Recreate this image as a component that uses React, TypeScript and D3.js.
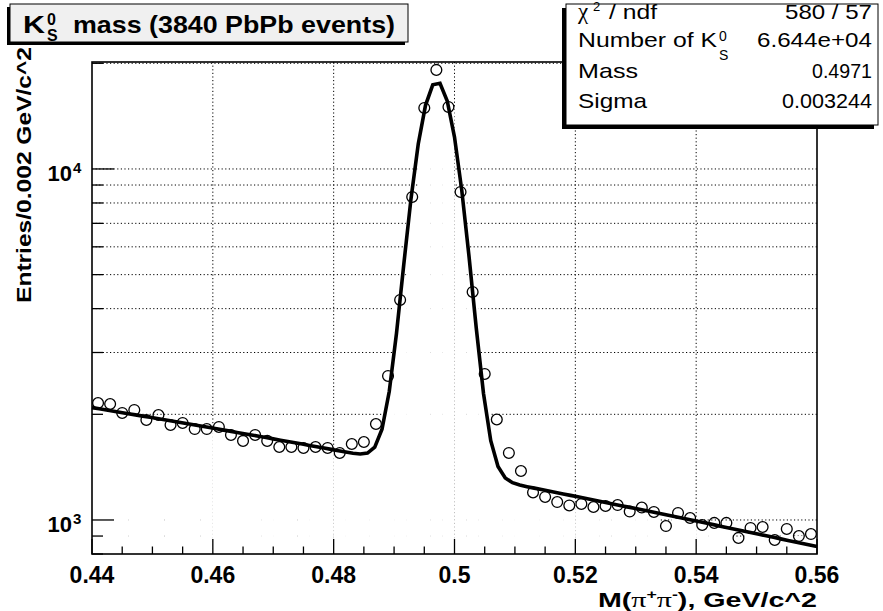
import React from "react";
import * as d3 from "d3";

// ---- data ----
const binLow = 0.44;
const binWidth = 0.002;
const counts = [
  2154, 2140, 2018, 2058, 1927, 1991, 1865, 1890, 1816, 1816,
  1841, 1747, 1680, 1747, 1680, 1614, 1614, 1604, 1614, 1604,
  1552, 1646, 1668, 1877, 2572, 4235, 8322, 14920, 19150, 15020,
  8600, 4463, 2606, 1933, 1552, 1379, 1198, 1163, 1125, 1100,
  1111, 1089, 1096, 1103, 1057, 1085, 1054, 961, 1047, 1013,
  968, 981, 981, 889, 949, 955, 877, 943, 900, 912,
];
const xTickValues = [0.44, 0.46, 0.48, 0.5, 0.52, 0.54, 0.56];
const xTickLabels = ["0.44", "0.46", "0.48", "0.5", "0.52", "0.54", "0.56"];
const yDecadeValues = [1000, 10000];
const yDecadeExps = ["3", "4"];
const yMinorValues = [800, 900, 2000, 3000, 4000, 5000, 6000, 7000, 8000, 9000, 20000];

// fit parameters (gaus + pol2 background)
const fitMass = 0.4971;
const fitSigma = 0.003244;
const fitNumber = 6.644e4;
const bgCenter = 0.5;
const bgP0 = 1365;
const bgP1 = -10417;
const bgP2 = 27778;
const fitNpx = 100;

const statsNames = ["ndf", "Number of K", "Mass", "Sigma"];
const statsValues = ["580 / 57", "6.644e+04", "0.4971", "0.003244"];

const W = 883;
const H = 611;
const FL = 92, FR = 817, FT = 62, FB = 554;
const FONT = "'Liberation Sans', Arial, Helvetica, sans-serif";
const SYM = "'Liberation Serif', 'DejaVu Serif', serif";

function fitFunc(m: number): number {
  const amp = (fitNumber * binWidth) / (Math.sqrt(2 * Math.PI) * fitSigma);
  const g = amp * Math.exp(-((m - fitMass) ** 2) / (2 * fitSigma * fitSigma));
  const u = m - bgCenter;
  return g + bgP0 + bgP1 * u + bgP2 * u * u;
}

export default function App() {
  const x = d3.scaleLinear().domain([0.44, 0.56]).range([FL, FR]);
  const y = d3.scaleLog().domain([800, 20170]).range([FB, FT]);

  const bins = counts.map((c, i) => ({
    lo: binLow + i * binWidth,
    hi: binLow + (i + 1) * binWidth,
    mid: binLow + (i + 0.5) * binWidth,
    c,
  }));

  const [x0, x1] = x.domain();
  const fitPts = d3.range(fitNpx + 1).map((i) => {
    const m = x0 + ((x1 - x0) * i) / fitNpx;
    return [m, fitFunc(m)] as [number, number];
  });
  const line = d3
    .line<[number, number]>()
    .x((d) => x(d[0]))
    .y((d) => y(d[1]));

  const xMinor = d3.range(0, 25).map((i) => 0.44 + i * 0.005);
  const gridY = [...yDecadeValues, ...yMinorValues].filter(
    (v) => v > 800 && v < 20170
  );
  const gridX = xTickValues.slice(1, -1);
  const LA = "spacingAndGlyphs";

  return (
    <svg
      width={W}
      height={H}
      style={{ position: "absolute", left: 0, top: 0, background: "#fff" }}
      fontFamily={FONT}
    >
      <rect x={0} y={0} width={W} height={H} fill="#fff" />
      {/* grid */}
      <g stroke="#000" strokeWidth={1} strokeDasharray="1.2,2.4">
        {gridX.map((v) => (
          <line key={"gx" + v} x1={x(v)} x2={x(v)} y1={FT} y2={FB} />
        ))}
        {gridY.map((v) => (
          <line key={"gy" + v} x1={FL} x2={FR} y1={y(v)} y2={y(v)} />
        ))}
      </g>
      {/* white histogram bars hiding grid */}
      <g fill="#fff">
        {bins.map((b, i) => (
          <rect
            key={"b" + i}
            x={x(b.lo)}
            y={y(b.c)}
            width={x(b.hi) - x(b.lo)}
            height={FB - y(b.c)}
          />
        ))}
      </g>
      {/* markers */}
      <g fill="none" stroke="#000" strokeWidth={1.3}>
        {bins.map((b, i) => (
          <circle key={"m" + i} cx={x(b.mid)} cy={y(b.c)} r={5.4} />
        ))}
      </g>
      {/* fit */}
      <path
        d={line(fitPts) || ""}
        fill="none"
        stroke="#000"
        strokeWidth={3.6}
        strokeLinejoin="miter"
      />
      {/* frame */}
      <rect
        x={FL}
        y={FT}
        width={FR - FL}
        height={FB - FT}
        fill="none"
        stroke="#000"
        strokeWidth={1.6}
      />
      {/* ticks */}
      <g stroke="#000" strokeWidth={1.3}>
        {xMinor.map((v, i) => (
          <line
            key={"xt" + i}
            x1={x(v)}
            x2={x(v)}
            y1={FB}
            y2={FB - (i % 4 === 0 ? 15 : 7.5)}
          />
        ))}
        {yDecadeValues.map((v) => (
          <line key={"ytM" + v} x1={FL} x2={FL + 22} y1={y(v)} y2={y(v)} />
        ))}
        {yMinorValues
          .filter((v) => v >= 800 && v <= 20170)
          .map((v) => (
            <line key={"ytm" + v} x1={FL} x2={FL + 11} y1={y(v)} y2={y(v)} />
          ))}
      </g>
      {/* x labels */}
      <g fontWeight="bold" fontSize={23} textAnchor="middle">
        {xTickValues.map((v, i) => (
          <text key={"xl" + v} x={x(v)} y={583}>
            {xTickLabels[i]}
          </text>
        ))}
      </g>
      {/* y labels */}
      <g fontWeight="bold">
        {yDecadeValues.map((v, i) => (
          <g key={"yl" + v}>
            <text x={72} y={y(v) + 12} fontSize={22} textAnchor="end">
              10
            </text>
            <text x={73} y={y(v) + 4} fontSize={15}>
              {yDecadeExps[i]}
            </text>
          </g>
        ))}
      </g>
      {/* x title */}
      <text
        x={598}
        y={607}
        fontWeight="bold"
        fontSize={21}
        textLength={219}
        lengthAdjust={LA}
      >
        M(
        <tspan fontFamily={SYM} fontWeight="normal" fontSize={22}>π</tspan>
        <tspan fontSize={13} dy={-8}>+</tspan>
        <tspan fontFamily={SYM} fontWeight="normal" fontSize={22} dy={8}>π</tspan>
        <tspan fontSize={13} dy={-8}>-</tspan>
        <tspan dy={8}>), GeV/c^2</tspan>
      </text>
      {/* y title */}
      <text
        transform={`translate(31,303) rotate(-90)`}
        fontWeight="bold"
        fontSize={20}
        textLength={256}
        lengthAdjust={LA}
      >
        Entries/0.002 GeV/c^2
      </text>

      {/* title box */}
      <rect x={7} y={7} width={398} height={38} fill="#000" />
      <rect x={10} y={4} width={398} height={38} fill="#f0f0f0" stroke="#000" strokeWidth={1} />
      <g fontWeight="bold">
        <text x={23} y={33} fontSize={24} textLength={22} lengthAdjust={LA}>K</text>
        <text x={47} y={25} fontSize={16}>0</text>
        <text x={47} y={40.5} fontSize={16}>S</text>
        <text x={73} y={33} fontSize={24} textLength={322} lengthAdjust={LA}>
          mass (3840 PbPb events)
        </text>
      </g>

      {/* stats box */}
      <rect x={562} y={8} width={312} height={121} fill="#000" />
      <rect x={566} y={4} width={312} height={121} fill="#fff" stroke="#000" strokeWidth={1} />
      <g fontSize={21}>
        <text x={578} y={18.5} fontFamily={SYM} fontSize={23}>χ</text>
        <text x={593} y={11} fontSize={13}>2</text>
        <text x={609} y={18.5} textLength={48} lengthAdjust={LA}>/ {statsNames[0]}</text>
        <text x={578} y={47} textLength={139} lengthAdjust={LA}>{statsNames[1]}</text>
        <text x={719} y={41} fontSize={14}>0</text>
        <text x={719} y={60} fontSize={14}>S</text>
        <text x={578} y={77.5} textLength={60} lengthAdjust={LA}>{statsNames[2]}</text>
        <text x={578} y={107.5} textLength={69} lengthAdjust={LA}>{statsNames[3]}</text>
        <text x={785} y={18.5} textLength={87} lengthAdjust={LA}>{statsValues[0]}</text>
        <text x={757} y={47} textLength={115} lengthAdjust={LA}>{statsValues[1]}</text>
        <text x={812} y={77.5} textLength={60} lengthAdjust={LA}>{statsValues[2]}</text>
        <text x={782} y={107.5} textLength={90} lengthAdjust={LA}>{statsValues[3]}</text>
      </g>
    </svg>
  );
}
